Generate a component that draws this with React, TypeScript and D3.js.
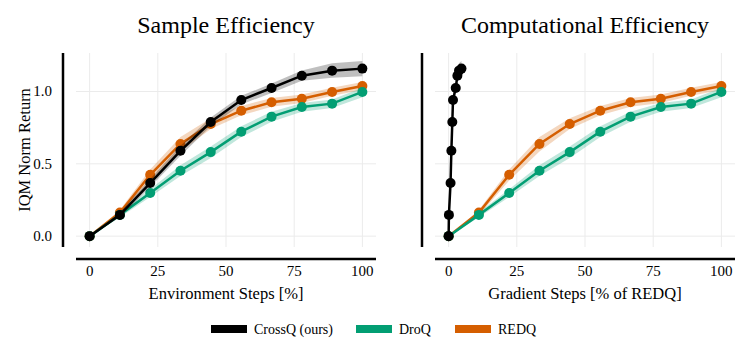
import React from 'react';
import * as d3 from 'd3';

// x positions (% of training)
const envSteps = [0, 11.1, 22.2, 33.3, 44.4, 55.6, 66.7, 77.8, 88.9, 100];
const crossqGradSteps = [0, 0.1, 0.7, 1.0, 1.35, 1.6, 2.6, 3.2, 3.8, 4.7];

// IQM normalized return with confidence bands
const crossqMean = [0, 0.147, 0.367, 0.59, 0.789, 0.941, 1.024, 1.109, 1.144, 1.158];
const crossqLow = [0, 0.13, 0.34, 0.555, 0.76, 0.91, 0.99, 1.075, 1.095, 1.105];
const crossqHigh = [0, 0.165, 0.395, 0.625, 0.82, 0.97, 1.055, 1.145, 1.195, 1.21];

const droqMean = [0, 0.147, 0.298, 0.452, 0.581, 0.722, 0.826, 0.893, 0.916, 0.997];
const droqLow = [0, 0.13, 0.27, 0.415, 0.54, 0.685, 0.79, 0.86, 0.885, 0.96];
const droqHigh = [0, 0.165, 0.325, 0.49, 0.62, 0.76, 0.86, 0.92, 0.945, 1.025];

const redqMean = [0, 0.163, 0.424, 0.637, 0.775, 0.867, 0.925, 0.95, 0.997, 1.038];
const redqLow = [0, 0.145, 0.385, 0.585, 0.74, 0.835, 0.895, 0.92, 0.97, 1.01];
const redqHigh = [0, 0.18, 0.46, 0.685, 0.815, 0.9, 0.955, 0.98, 1.025, 1.065];

const xTicks = [0, 25, 50, 75, 100];
const yTicks = [0, 0.5, 1.0];

const legendItems = [
  { name: 'CrossQ (ours)', color: '#000000' },
  { name: 'DroQ', color: '#029e73' },
  { name: 'REDQ', color: '#d55e00' },
];

const FONT = '"Liberation Serif", "Times New Roman", Times, serif';

type Series = { name: string; color: string; x: number[]; mean: number[]; low: number[]; high: number[] };

const Panel = ({ left, title, xLabel, series, showY }: {
  left: number; title: string; xLabel: string; series: Series[]; showY: boolean;
}) => {
  const top = 53, plotW = 300, plotH = 194;
  const xScale = d3.scaleLinear().domain([-5, 105]).range([0, plotW]);
  const yScale = d3.scaleLinear().domain([-0.075, 1.266]).range([plotH, 0]);

  return (
    <g transform={`translate(${left},${top})`} style={{ fontFamily: FONT }}>
      <text x={plotW / 2} y={-20} textAnchor="middle" fontSize={24}>{title}</text>
      {xTicks.map(t => (
        <line key={'gx' + t} x1={xScale(t)} x2={xScale(t)} y1={0} y2={plotH} stroke="#ebebeb" strokeWidth={1} />
      ))}
      {yTicks.map(t => (
        <line key={'gy' + t} x1={0} x2={plotW} y1={yScale(t)} y2={yScale(t)} stroke="#ebebeb" strokeWidth={1} />
      ))}
      {series.map(s => {
        const pts = s.x.map((x, i) => ({ x, m: s.mean[i], lo: s.low[i], hi: s.high[i] }));
        const area = d3.area<any>().x(d => xScale(d.x)).y0(d => yScale(d.lo)).y1(d => yScale(d.hi));
        const line = d3.line<any>().x(d => xScale(d.x)).y(d => yScale(d.m));
        return (
          <g key={s.name}>
            <path d={area(pts) || ''} fill={s.color} fillOpacity={0.25} />
            <path d={line(pts) || ''} fill="none" stroke={s.color} strokeWidth={2.5} />
            {pts.map((d, i) => (
              <circle key={i} cx={xScale(d.x)} cy={yScale(d.m)} r={5} fill={s.color} />
            ))}
          </g>
        );
      })}
      {/* offset spines */}
      <line x1={-13} x2={-13} y1={0} y2={plotH} stroke="#000" strokeWidth={2.5} />
      <line x1={0} x2={plotW} y1={plotH + 12} y2={plotH + 12} stroke="#000" strokeWidth={2.5} />
      {xTicks.map(t => (
        <text key={'tx' + t} x={xScale(t)} y={plotH + 29} textAnchor="middle" fontSize={15}>{t}</text>
      ))}
      {showY && yTicks.map(t => (
        <text key={'ty' + t} x={-24} y={yScale(t) + 5} textAnchor="end" fontSize={15}>{t.toFixed(1)}</text>
      ))}
      <text x={plotW / 2} y={plotH + 52} textAnchor="middle" fontSize={16.5}>{xLabel}</text>
      {showY && (
        <text transform={`translate(${-46},${plotH / 2}) rotate(-90)`} textAnchor="middle" fontSize={16.5}>
          IQM Norm Return
        </text>
      )}
    </g>
  );
};

export default function App() {
  const sampleSeries: Series[] = [
    { name: 'REDQ', color: '#d55e00', x: envSteps, mean: redqMean, low: redqLow, high: redqHigh },
    { name: 'DroQ', color: '#029e73', x: envSteps, mean: droqMean, low: droqLow, high: droqHigh },
    { name: 'CrossQ', color: '#000000', x: envSteps, mean: crossqMean, low: crossqLow, high: crossqHigh },
  ];
  const computeSeries: Series[] = [
    { name: 'REDQ', color: '#d55e00', x: envSteps, mean: redqMean, low: redqLow, high: redqHigh },
    { name: 'DroQ', color: '#029e73', x: envSteps, mean: droqMean, low: droqLow, high: droqHigh },
    { name: 'CrossQ', color: '#000000', x: crossqGradSteps, mean: crossqMean, low: crossqLow, high: crossqHigh },
  ];
  const legendX = [211, 356, 455];

  return (
    <svg width={750} height={350} style={{ position: 'absolute', left: 0, top: 0, background: '#fff' }}>
      <Panel left={76} title="Sample Efficiency" xLabel="Environment Steps [%]" series={sampleSeries} showY={true} />
      <Panel left={435} title="Computational Efficiency" xLabel="Gradient Steps [% of REDQ]" series={computeSeries} showY={false} />
      {legendItems.map((item, i) => (
        <g key={item.name} transform={`translate(${legendX[i]},325)`}>
          <rect x={0} y={0} width={36} height={8} fill={item.color} />
          <text x={43} y={9} fontSize={14} style={{ fontFamily: FONT }}>{item.name}</text>
        </g>
      ))}
    </svg>
  );
}
